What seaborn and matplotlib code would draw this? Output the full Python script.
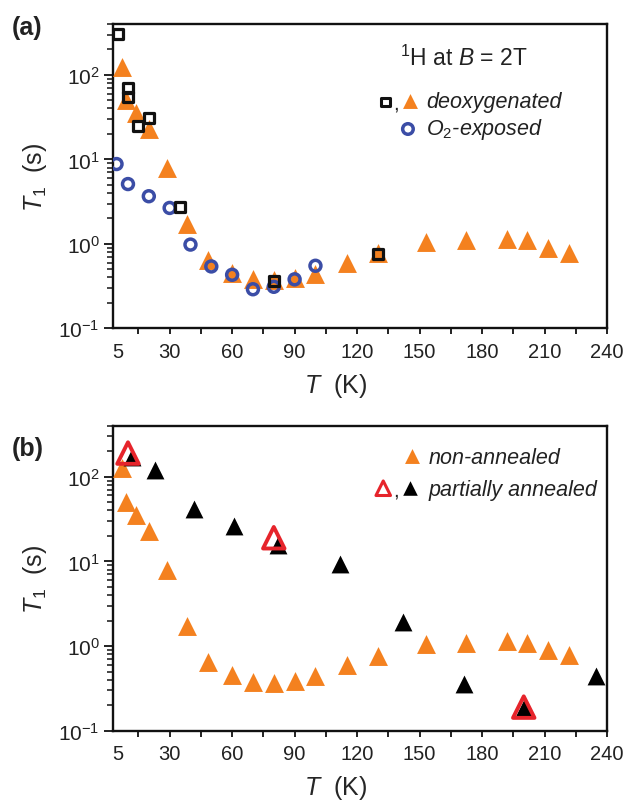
import numpy as np
import matplotlib
matplotlib.use("Agg")
import matplotlib.pyplot as plt
import seaborn as sns
from matplotlib.ticker import LogLocator, NullFormatter

# ---------------- data ----------------
# non-annealed / deoxygenated (orange triangles)
T_non = [7, 9, 14, 20, 28.5, 38.5, 48.5, 60, 70, 80, 90, 100, 115, 130,
         153, 172.5, 192, 201.5, 211.5, 221.5]
T1_non = [125, 50, 35, 23, 8.0, 1.73, 0.65, 0.45, 0.38, 0.37, 0.39, 0.44,
          0.6, 0.77, 1.06, 1.1, 1.15, 1.1, 0.9, 0.78]
# deoxygenated (black open squares)
T_sq = [5, 10, 10, 15, 20, 35, 80, 130]
T1_sq = [308, 69, 54, 25, 31, 2.7, 0.365, 0.76]
# O2-exposed (blue open circles)
T_o2 = [4.5, 10, 20, 30, 40, 50, 60, 70, 80, 90, 100]
T1_o2 = [8.8, 5.1, 3.66, 2.66, 0.98, 0.54, 0.43, 0.29, 0.31, 0.38, 0.55]
# partially annealed (black filled triangles)
T_ann = [12, 23, 41.5, 61, 82, 112, 142, 171.5, 200, 234.5]
T1_ann = [170, 119, 41, 26, 15.8, 9.2, 1.93, 0.357, 0.185, 0.44]
# partially annealed (red open triangles)
T_ann_open = [10, 80, 200]
T1_ann_open = [190, 19, 0.19]

xtick_major = [5, 30, 60, 90, 120, 150, 180, 210, 240]
xtick_minor = [15, 45, 75, 105, 135, 165, 195, 225]

ORANGE = "#F4811F"
BLUE = "#3B4DA6"
RED = "#E6242B"

# ---------------- style ----------------
sns.set_theme(style="ticks")
plt.rcParams["font.family"] = ["Liberation Sans", "DejaVu Sans"]
plt.rcParams["mathtext.fontset"] = "custom"
plt.rcParams["mathtext.rm"] = "Liberation Sans"
plt.rcParams["mathtext.it"] = "Liberation Sans:italic"
plt.rcParams["mathtext.bf"] = "Liberation Sans:bold"
plt.rcParams["axes.linewidth"] = 1.7
plt.rcParams["text.color"] = "#222222"

fig = plt.figure(figsize=(6.27, 8.04), dpi=100)
ax_a = fig.add_axes([0.1802, 0.5904, 0.788, 0.3785])
ax_b = fig.add_axes([0.1802, 0.0899, 0.788, 0.3794])


def style_axes(ax):
    ax.set_yscale("log")
    ax.set_xlim(2.8, 240)
    ax.set_ylim(0.1, 400)
    ax.set_xticks(xtick_major)
    ax.set_xticklabels([str(v) for v in xtick_major])
    ax.set_xticks(xtick_minor, minor=True)
    ax.xaxis.get_major_ticks()[0].tick1line.set_visible(False)
    ax.yaxis.set_major_locator(LogLocator(base=10, numticks=10))
    ax.yaxis.set_minor_locator(LogLocator(base=10, subs=np.arange(2, 10), numticks=20))
    ax.yaxis.set_minor_formatter(NullFormatter())
    ax.tick_params(axis="x", which="both", direction="out", length=4.5, width=1.4,
                   labelsize=14.5, colors="#222222", pad=5)
    ax.tick_params(axis="y", which="major", direction="out", length=6.5, width=1.4,
                   labelsize=15, colors="#222222", pad=3)
    ax.tick_params(axis="y", which="minor", direction="out", length=4, width=1.2)
    ax.tick_params(top=False, right=False)
    for s in ax.spines.values():
        s.set_visible(True)
        s.set_color("#111111")
        s.set_linewidth(1.7)
    ax.set_xlabel("$T$  (K)", fontsize=18, labelpad=6)
    ax.xaxis.set_label_coords(0.45, -0.14)
    ax.set_ylabel("$T_1$  (s)", fontsize=18, labelpad=8)
    ax.yaxis.set_label_coords(-0.13, 0.5)
    ax.grid(False)


# ---------------- panel (a) ----------------
sns.scatterplot(x=T_non, y=T1_non, ax=ax_a, marker="^", s=185, color=ORANGE,
                linewidth=0, zorder=3)
sns.scatterplot(x=T_o2, y=T1_o2, ax=ax_a, marker="o", s=62, facecolor="none",
                edgecolor=BLUE, linewidth=2.5, zorder=4)
sns.scatterplot(x=T_sq, y=T1_sq, ax=ax_a, marker="s", s=52, facecolor="none",
                edgecolor="#111111", linewidth=2.3, zorder=5)
style_axes(ax_a)

tr = ax_a.transAxes
ax_a.text(0.709, 0.892, "$^1$H at $B$ = 2T", transform=tr, ha="center",
          va="center", fontsize=16.5)
ax_a.scatter([0.551], [0.744], transform=tr, marker="s", s=40, facecolor="none",
             edgecolor="#111111", linewidth=2.2, clip_on=False)
ax_a.text(0.573, 0.740, ",", transform=tr, ha="center", va="center", fontsize=15)
ax_a.scatter([0.601], [0.748], transform=tr, marker="^", s=115, color=ORANGE,
             linewidth=0, clip_on=False)
ax_a.text(0.634, 0.744, "deoxygenated", transform=tr, ha="left", va="center",
          fontsize=15.5, style="italic")
ax_a.scatter([0.597], [0.655], transform=tr, marker="o", s=58, facecolor="none",
             edgecolor=BLUE, linewidth=2.5, clip_on=False)
ax_a.text(0.634, 0.655, "O$_2$-exposed", transform=tr, ha="left", va="center",
          fontsize=15.5, style="italic")

# ---------------- panel (b) ----------------
sns.scatterplot(x=T_non, y=T1_non, ax=ax_b, marker="^", s=185, color=ORANGE,
                linewidth=0, zorder=3)
sns.scatterplot(x=T_ann, y=T1_ann, ax=ax_b, marker="^", s=165, color="#000000",
                linewidth=0, zorder=4)
sns.scatterplot(x=T_ann_open, y=T1_ann_open, ax=ax_b, marker="^", s=240,
                facecolor="none", edgecolor=RED, linewidth=2.8, zorder=5)
style_axes(ax_b)

tr = ax_b.transAxes
ax_b.scatter([0.605], [0.900], transform=tr, marker="^", s=115, color=ORANGE,
             linewidth=0, clip_on=False)
ax_b.text(0.638, 0.897, "non-annealed", transform=tr, ha="left", va="center",
          fontsize=15.5, style="italic")
ax_b.scatter([0.547], [0.795], transform=tr, marker="^", s=110, facecolor="none",
             edgecolor=RED, linewidth=2.2, clip_on=False)
ax_b.text(0.573, 0.788, ",", transform=tr, ha="center", va="center", fontsize=15)
ax_b.scatter([0.601], [0.795], transform=tr, marker="^", s=110, color="#000000",
             linewidth=0, clip_on=False)
ax_b.text(0.638, 0.792, "partially annealed", transform=tr, ha="left",
          va="center", fontsize=15.5, style="italic")

# panel labels
fig.text(0.018, 0.980, "(a)", fontsize=18, weight="bold", va="top", ha="left")
fig.text(0.018, 0.457, "(b)", fontsize=18, weight="bold", va="top", ha="left")

fig.savefig("out.png", dpi=100)
